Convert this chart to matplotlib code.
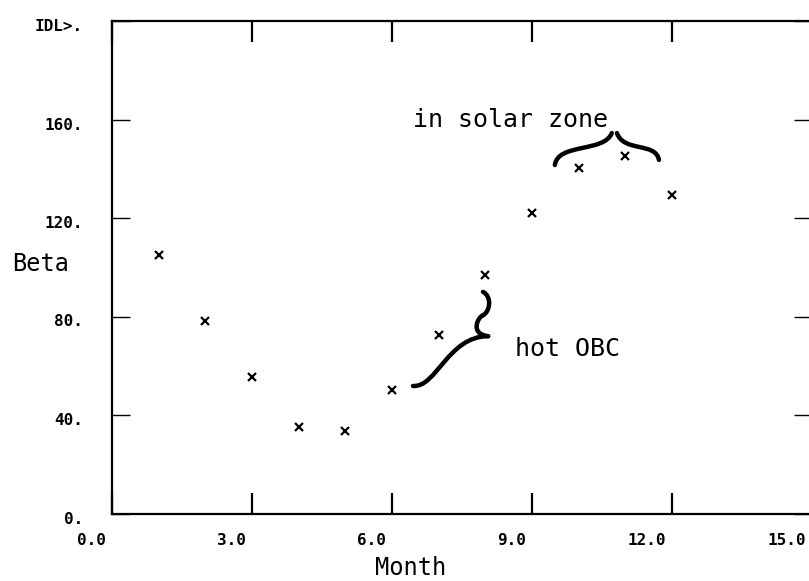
# beta_by_month.py
import matplotlib
matplotlib.use("Agg")
import matplotlib.pyplot as plt
from matplotlib.path import Path
from matplotlib.patches import PathPatch
from matplotlib.transforms import ScaledTranslation

# Monthly beta angle readings
months = [1, 2, 3, 4, 5, 6, 7, 8, 9, 10, 11, 12]
beta = [105.0, 78.0, 55.5, 35.0, 33.5, 50.0, 72.5, 97.0, 122.0, 140.5, 145.0, 129.5]

x_ticks = [0, 3, 6, 9, 12, 15]
x_tick_labels = ["0.0", "3.0", "6.0", "9.0", "12.0", "15.0"]
y_ticks = [0, 40, 80, 120, 160, 200]
y_tick_labels = ["0.", "40.", "80.", "120.", "160.", "IDL>."]

W, H = 809, 581
MONO = "DejaVu Sans Mono"


def brace(ax, segments, lw=3.2):
    """Draw a hand-drawn style curly brace from cubic bezier segments."""
    for pts in segments:
        codes = [Path.MOVETO] + [Path.CURVE4] * (len(pts) - 1)
        ax.add_patch(PathPatch(Path(pts, codes), fill=False, lw=lw,
                               edgecolor="black", capstyle="round",
                               clip_on=False))


fig = plt.figure(figsize=(W / 100, H / 100), dpi=100)
# axes: left spine at x=112px, x=15 lands just past the right edge
left, right, bottom, top = 112, 812, 513.5, 21
ax = fig.add_axes([left / W, (H - bottom) / H,
                   (right - left) / W, (bottom - top) / H])

ax.plot(months, beta, linestyle="none", marker="x", color="black",
        markersize=5.5, markeredgewidth=1.6)

ax.set_xlim(0, 15)
ax.set_ylim(0, 200)
for s in ax.spines.values():
    s.set_linewidth(1.6)

ax.set_xticks(x_ticks)
ax.set_xticklabels(x_tick_labels, fontfamily=MONO, fontweight="bold",
                   fontsize=11.5, ha="right")
ax.set_yticks(y_ticks)
ax.set_yticklabels(y_tick_labels, fontfamily=MONO, fontweight="bold",
                   fontsize=11.5)
ax.tick_params(axis="x", direction="in", length=15, width=1.6,
               top=True, pad=14)
ax.tick_params(axis="y", direction="in", length=13, width=1.0,
               right=True, pad=21)
shift = ScaledTranslation(-6 / 100, 0, fig.dpi_scale_trans)
for lab in ax.get_xticklabels():
    lab.set_transform(lab.get_transform() + shift)
down = ScaledTranslation(0, -4 / 100, fig.dpi_scale_trans)
for lab in ax.get_yticklabels():
    lab.set_transform(lab.get_transform() + down)

ax.set_xlabel("Month", fontfamily=MONO, fontsize=17, va="baseline")
ax.xaxis.set_label_coords(0.426, -0.124)
ax.set_ylabel("Beta", fontfamily=MONO, fontsize=17, rotation=0,
              ha="left", va="baseline")
ax.yaxis.set_label_coords(-0.143, 0.492)

# annotations
ax.text(6.45, 157, "in solar zone", fontfamily=MONO, fontsize=18,
        va="baseline")
ax.text(8.64, 64, "hot OBC", fontfamily=MONO, fontsize=18,
        va="baseline")

brace(ax, [
    [(9.49, 141.5), (9.55, 150.5), (10.55, 146.5), (10.71, 154.5)],
    [(10.82, 154.5), (10.97, 146.5), (11.65, 151.0), (11.72, 143.6)],
])
brace(ax, [
    [(6.45, 51.8), (6.95, 51.0), (7.2, 72.0), (8.06, 72.0)],
    [(8.06, 72.0), (7.65, 73.0), (7.85, 80.0), (7.95, 80.5)],
    [(7.95, 80.5), (8.1, 82.0), (8.15, 88.0), (7.95, 90.0)],
])

fig.savefig("out.png", dpi=100)
